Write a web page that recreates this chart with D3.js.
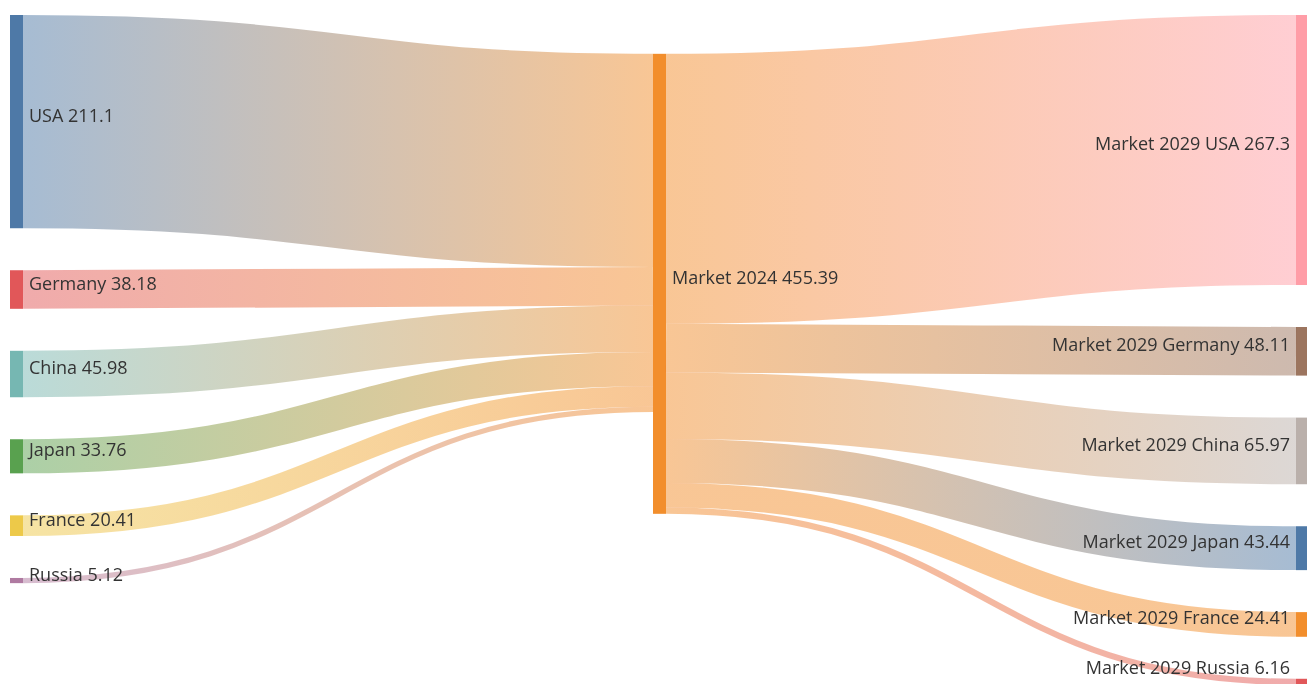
<!DOCTYPE html>
<html>
<head>
<meta charset="utf-8">
<script src="https://cdn.jsdelivr.net/npm/d3@7"></script>
<style>
  html, body { margin: 0; padding: 0; background: #fff; }
  svg { display: block; }
</style>
</head>
<body>
<div id="chart"></div>
<script>
// market size per country, 2024 and 2029
const countries = ["USA", "Germany", "China", "Japan", "France", "Russia"];
const market2024 = [211.1, 38.18, 45.98, 33.76, 20.41, 5.12];
const market2029 = [267.3, 48.11, 65.97, 43.44, 24.41, 6.16];
const hubName = "Market 2024";
const targetPrefix = "Market 2029 ";

const width = 1307, height = 684;
const extent = { x0: 10, y0: 15, x1: 1309, y1: 685 };
const nodeWidth = 13;
const nodePadding = 42;
const iterations = 6;

// links: country -> 2024 hub -> 2029 country
const linkData = [];
countries.forEach((c, i) => linkData.push({ source: c, target: hubName, value: market2024[i] }));
countries.forEach((c, i) => linkData.push({ source: hubName, target: targetPrefix + c, value: market2029[i] }));

const nodeNames = [];
linkData.forEach(l => {
  [l.source, l.target].forEach(n => { if (!nodeNames.includes(n)) nodeNames.push(n); });
});

const color = d3.scaleOrdinal().domain(nodeNames).range(d3.schemeTableau10);

// ---- small sankey layout (same steps as d3-sankey) ----
const nodes = nodeNames.map((name, index) => ({ name, index, sourceLinks: [], targetLinks: [] }));
const byName = new Map(nodes.map(n => [n.name, n]));
const links = linkData.map((l, index) => {
  const link = { index, value: l.value, source: byName.get(l.source), target: byName.get(l.target) };
  link.source.sourceLinks.push(link);
  link.target.targetLinks.push(link);
  return link;
});

nodes.forEach(n => {
  n.value = Math.max(d3.sum(n.sourceLinks, l => l.value), d3.sum(n.targetLinks, l => l.value));
});

// depths
let current = new Set(nodes), next = new Set(), depth = 0;
while (current.size) {
  for (const node of current) {
    node.depth = depth;
    for (const { target } of node.sourceLinks) next.add(target);
  }
  depth++;
  current = next;
  next = new Set();
}
const nLayers = depth;
nodes.forEach(n => { n.layer = n.sourceLinks.length ? n.depth : nLayers - 1; });

const x = d3.scaleLinear().domain([0, nLayers - 1]).range([extent.x0, extent.x1 - nodeWidth]);
const columns = d3.range(nLayers).map(() => []);
nodes.forEach(n => {
  n.x0 = x(n.layer);
  n.x1 = n.x0 + nodeWidth;
  columns[n.layer].push(n);
});

const py = Math.min(nodePadding, (extent.y1 - extent.y0) / (d3.max(columns, c => c.length) - 1));

// value -> pixel scale, set by the tightest column
const tight = d3.least(columns, c => (extent.y1 - extent.y0 - (c.length - 1) * py) / d3.sum(c, d => d.value));
const h = d3.scaleLinear()
  .domain([0, d3.sum(tight, d => d.value)])
  .range([0, extent.y1 - extent.y0 - (tight.length - 1) * py]);

const ascBreadth = (a, b) => a.y0 - b.y0;
const ascSource = (a, b) => ascBreadth(a.source, b.source) || a.index - b.index;
const ascTarget = (a, b) => ascBreadth(a.target, b.target) || a.index - b.index;

function reorderLinks(col) {
  for (const { sourceLinks, targetLinks } of col) {
    sourceLinks.sort(ascTarget);
    targetLinks.sort(ascSource);
  }
}
function reorderNodeLinks({ sourceLinks, targetLinks }) {
  for (const { source } of targetLinks) source.sourceLinks.sort(ascTarget);
  for (const { target } of sourceLinks) target.targetLinks.sort(ascSource);
}

// initial breadths
for (const col of columns) {
  let y = extent.y0;
  for (const node of col) {
    node.y0 = y;
    node.y1 = y + h(node.value);
    y = node.y1 + py;
    for (const link of node.sourceLinks) link.width = h(link.value);
  }
  y = (extent.y1 - y + py) / (col.length + 1);
  col.forEach((node, i) => { node.y0 += y * (i + 1); node.y1 += y * (i + 1); });
  reorderLinks(col);
}

function targetTop(source, target) {
  let y = source.y0 - (source.sourceLinks.length - 1) * py / 2;
  for (const { target: node, width } of source.sourceLinks) {
    if (node === target) break;
    y += width + py;
  }
  for (const { source: node, width } of target.targetLinks) {
    if (node === source) break;
    y -= width;
  }
  return y;
}
function sourceTop(source, target) {
  let y = target.y0 - (target.targetLinks.length - 1) * py / 2;
  for (const { source: node, width } of target.targetLinks) {
    if (node === source) break;
    y += width + py;
  }
  for (const { target: node, width } of source.sourceLinks) {
    if (node === target) break;
    y -= width;
  }
  return y;
}

function collideDown(col, y, i, alpha) {
  for (; i < col.length; ++i) {
    const node = col[i];
    const dy = (y - node.y0) * alpha;
    if (dy > 1e-6) { node.y0 += dy; node.y1 += dy; }
    y = node.y1 + py;
  }
}
function collideUp(col, y, i, alpha) {
  for (; i >= 0; --i) {
    const node = col[i];
    const dy = (node.y1 - y) * alpha;
    if (dy > 1e-6) { node.y0 -= dy; node.y1 -= dy; }
    y = node.y0 - py;
  }
}
function resolveCollisions(col, alpha) {
  const i = col.length >> 1;
  const subject = col[i];
  collideUp(col, subject.y0 - py, i - 1, alpha);
  collideDown(col, subject.y1 + py, i + 1, alpha);
  collideUp(col, extent.y1, col.length - 1, alpha);
  collideDown(col, extent.y0, 0, alpha);
}

function relaxLeftToRight(alpha, beta) {
  for (let i = 1; i < columns.length; ++i) {
    const col = columns[i];
    for (const target of col) {
      let y = 0, w = 0;
      for (const { source, value } of target.targetLinks) {
        const v = value * (target.layer - source.layer);
        y += targetTop(source, target) * v;
        w += v;
      }
      if (!(w > 0)) continue;
      const dy = (y / w - target.y0) * alpha;
      target.y0 += dy; target.y1 += dy;
      reorderNodeLinks(target);
    }
    col.sort(ascBreadth);
    resolveCollisions(col, beta);
  }
}
function relaxRightToLeft(alpha, beta) {
  for (let i = columns.length - 2; i >= 0; --i) {
    const col = columns[i];
    for (const source of col) {
      let y = 0, w = 0;
      for (const { target, value } of source.sourceLinks) {
        const v = value * (target.layer - source.layer);
        y += sourceTop(source, target) * v;
        w += v;
      }
      if (!(w > 0)) continue;
      const dy = (y / w - source.y0) * alpha;
      source.y0 += dy; source.y1 += dy;
      reorderNodeLinks(source);
    }
    col.sort(ascBreadth);
    resolveCollisions(col, beta);
  }
}

for (let i = 0; i < iterations; ++i) {
  const alpha = Math.pow(0.99, i);
  const beta = Math.max(1 - alpha, (i + 1) / iterations);
  relaxRightToLeft(alpha, beta);
  relaxLeftToRight(alpha, beta);
}

// link breadths
nodes.forEach(n => { n.sourceLinks.sort(ascTarget); n.targetLinks.sort(ascSource); });
nodes.forEach(n => {
  let y0 = n.y0, y1 = n.y0;
  for (const l of n.sourceLinks) { l.y0 = y0 + l.width / 2; y0 += l.width; }
  for (const l of n.targetLinks) { l.y1 = y1 + l.width / 2; y1 += l.width; }
});

// ---- draw ----
const svg = d3.select("#chart")
  .append("svg")
    .attr("width", width)
    .attr("height", height)
    .attr("viewBox", [0, 0, width, height])
    .style("font-family", "'Open Sans', 'Noto Sans', sans-serif")
    .style("font-size", "18px");

svg.append("g")
  .selectAll("rect")
  .data(nodes)
  .join("rect")
    .attr("x", d => d.x0)
    .attr("y", d => d.y0)
    .attr("width", d => d.x1 - d.x0)
    .attr("height", d => d.y1 - d.y0)
    .attr("fill", d => color(d.name));

const link = svg.append("g")
    .attr("fill", "none")
    .attr("stroke-opacity", 0.5)
  .selectAll("g")
  .data(links)
  .join("g")
    .style("mix-blend-mode", "multiply");

const gradient = link.append("linearGradient")
    .attr("id", d => "link-grad-" + d.index)
    .attr("gradientUnits", "userSpaceOnUse")
    .attr("x1", d => d.source.x1)
    .attr("x2", d => d.target.x0);
gradient.append("stop")
    .attr("offset", "0%")
    .attr("stop-color", d => color(d.source.name));
gradient.append("stop")
    .attr("offset", "100%")
    .attr("stop-color", d => color(d.target.name));

const linkPath = d3.linkHorizontal()
  .source(d => [d.source.x1, d.y0])
  .target(d => [d.target.x0, d.y1]);

link.append("path")
    .attr("d", linkPath)
    .attr("stroke", d => `url(#link-grad-${d.index})`)
    .attr("stroke-width", d => Math.max(1, d.width));

const fmt = v => String(+v.toFixed(2));

// labels sit on the node middle, kept inside the picture at the bottom
svg.append("g")
    .attr("fill", "#333")
  .selectAll("text")
  .data(nodes)
  .join("text")
    .attr("x", d => d.x0 < width / 2 ? d.x1 + 6 : d.x0 - 6)
    .attr("y", d => Math.min((d.y0 + d.y1) / 2, height - 10))
    .attr("text-anchor", d => d.x0 < width / 2 ? "start" : "end")
    .text(d => `${d.name} ${fmt(d.value)}`);
</script>
</body>
</html>
